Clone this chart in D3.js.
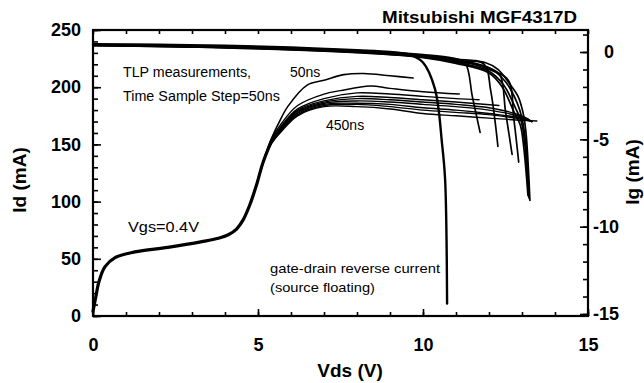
<!DOCTYPE html>
<html><head><meta charset="utf-8">
<script src="https://cdn.jsdelivr.net/npm/d3@7"></script>
<style>
body{margin:0;background:#fff;}
text{font-family:"Liberation Sans",Arial,Helvetica,sans-serif;fill:#000;}
</style></head>
<body><svg id="c" width="644" height="383"></svg>
<script>
// ---------- data ----------
const xTicksMajor = [0, 5, 10, 15];
const idTicksMajor = [0, 50, 100, 150, 200, 250];
const igTicksMajor = [0, -5, -10, -15];

// common Id rise (Vgs = 0.4 V), [Vds, Id]
const idCommon = [[0,4],[0.08,16],[0.18,30],[0.36,43],[0.67,51],[1.27,56],[2.27,60],[3.3,65],[3.8,68],[4.1,71],[4.35,76],[4.55,84],[4.75,97],[4.95,114],[5.15,134],[5.42,154]];
// Id per time sample after the rise
const id50ns  = [[4.95,114],[5.15,134],[5.42,156],[5.65,170],[5.9,183],[6.5,202],[7.0,206],[7.6,211],[8.2,212],[9.0,210],[9.7,208]];
const id100ns = [[4.95,114],[5.15,134],[5.42,155],[5.7,168],[6.2,184],[7.0,194],[7.5,197],[8.4,201],[9.0,199],[10.0,196],[11.1,194]];
const id150ns = [[4.95,114],[5.15,134],[5.42,154],[5.7,166],[6.2,181],[7.0,190],[8.0,195],[9.0,194],[10.0,192],[11.0,190],[11.7,189]];
const id200ns = [[4.95,114],[5.15,134],[5.42,154],[5.7,165],[6.2,180],[7.0,188],[8.0,192],[9.0,191],[10.0,189],[11.0,187],[12.3,184]];
const id250ns = [[4.95,114],[5.15,134],[5.42,153],[5.7,164],[6.2,179],[7.0,187],[8.0,190],[9.0,189],[10.0,187],[11.0,185],[12.0,182],[13.0,175],[13.3,170]];
const id300ns = [[4.95,114],[5.15,134],[5.42,153],[5.7,163],[6.2,178],[7.0,186],[8.0,188],[9.0,187],[10.0,185],[11.0,183],[12.0,180],[13.0,174],[13.3,170]];
const id350ns = [[4.95,114],[5.15,134],[5.42,152],[5.7,162],[6.2,177],[7.0,185],[8.0,186],[9.0,185],[10.0,182],[11.0,180],[12.0,177],[13.0,173],[13.3,170]];
const id400ns = [[4.95,114],[5.15,134],[5.42,152],[5.7,162],[6.2,176],[7.0,184],[8.0,185],[9.0,183],[10.0,180],[11.0,178],[12.0,176],[13.0,172],[13.3,170]];
const id450ns = [[4.95,114],[5.15,134],[5.42,151],[5.7,161],[6.2,175],[7.0,183],[8.0,183],[9.0,181],[10.0,177],[11.0,175],[12.0,173],[13.0,171],[13.45,170.5]];
const idSeries = [id50ns,id100ns,id150ns,id200ns,id250ns,id300ns,id350ns,id400ns,id450ns];

// gate current, [Vds, Ig]
const igGateDrain = [[0,0.45],[2,0.42],[4,0.36],[6,0.26],[8,0.1],[9,0.0],[9.6,-0.15],[10.0,-0.6],[10.36,-2.1],[10.58,-5.3],[10.67,-7.3],[10.73,-14.4]];
const ig100ns = [[0,0.42],[4,0.32],[8,0.08],[10,-0.15],[10.9,-0.35],[11.27,-0.6],[11.5,-2.6],[11.73,-4.6]];
const ig150ns = [[0,0.42],[4,0.3],[8,0.05],[10,-0.2],[11,-0.4],[11.85,-0.7],[12.05,-2.2],[12.27,-5.4]];
const ig200ns = [[0,0.4],[4,0.3],[8,0.05],[10,-0.2],[11,-0.42],[12,-0.9],[12.33,-1.3],[12.5,-3.4],[12.7,-5.86]];
const ig250ns = [[0,0.4],[4,0.28],[8,0.03],[10,-0.22],[11,-0.45],[12,-1.0],[12.58,-1.6],[12.75,-3.8],[12.9,-6.3]];
const ig300ns = [[0,0.4],[4,0.28],[8,0.03],[10,-0.25],[11,-0.5],[11.88,-0.6],[12.27,-1.0],[12.64,-1.86],[12.88,-2.54],[13.03,-3.46],[13.12,-4.6],[13.24,-8.5]];
const ig350ns = [[0,0.38],[4,0.26],[8,0.0],[10,-0.28],[11,-0.55],[12,-0.9],[12.5,-1.7],[12.85,-2.9],[13.0,-3.8],[13.1,-5.0],[13.22,-8.4]];
const ig400ns = [[0,0.38],[4,0.25],[8,-0.02],[10,-0.3],[11,-0.6],[12,-1.1],[12.45,-1.9],[12.8,-3.2],[12.98,-4.0],[13.08,-5.2],[13.2,-8.3]];
const ig450ns = [[0,0.36],[4,0.24],[8,-0.04],[10,-0.32],[11,-0.65],[12,-1.2],[12.4,-2.0],[12.75,-3.4],[12.95,-4.2],[13.05,-5.4],[13.18,-8.2]];
const igSeries = [ig100ns,ig150ns,ig200ns,ig250ns,ig300ns,ig350ns,ig400ns,ig450ns];

// ---------- chart ----------
const svg = d3.select("#c");
const x = d3.scaleLinear([0, 15], [93, 588]);
const yId = d3.scaleLinear([0, 250], [316, 30]);
const yIg = d3.scaleLinear([-15, 0], [314, 52]);

const lineId = d3.line().x(d => x(d[0])).y(d => yId(d[1])).curve(d3.curveCatmullRom.alpha(0.5));
const lineIg = d3.line().x(d => x(d[0])).y(d => yIg(d[1])).curve(d3.curveCatmullRom.alpha(0.5));

// axes (ticks inward)
function styleAxis(g){ g.select(".domain").remove(); g.selectAll("line").attr("stroke","#000").attr("stroke-width",1.6); }
svg.append("g").attr("transform","translate(0,316)")
  .call(d3.axisBottom(x).tickValues(d3.range(0,16,1)).tickSize(-4).tickFormat(""))
  .call(styleAxis);
svg.append("g").attr("transform","translate(0,316)")
  .call(d3.axisBottom(x).tickValues(xTicksMajor).tickSize(-7).tickPadding(22).tickFormat(d3.format("d")))
  .call(styleAxis)
  .selectAll("text").attr("font-size",18).attr("font-weight","bold");
svg.append("g").attr("transform","translate(0,30)")
  .call(d3.axisTop(x).tickValues(d3.range(0,16,1)).tickSize(-4).tickFormat(""))
  .call(styleAxis);
svg.append("g").attr("transform","translate(93,0)")
  .call(d3.axisLeft(yId).tickValues(d3.range(0,251,10)).tickSize(-5).tickFormat(""))
  .call(styleAxis);
svg.append("g").attr("transform","translate(93,0)")
  .call(d3.axisLeft(yId).tickValues(idTicksMajor).tickSize(-8).tickPadding(12).tickFormat(d3.format("d")))
  .call(styleAxis)
  .selectAll("text").attr("font-size",18).attr("font-weight","bold");
svg.append("g").attr("transform","translate(588,0)")
  .call(d3.axisRight(yIg).tickValues(d3.range(-15,2,1)).tickSize(-5).tickFormat(""))
  .call(styleAxis);
const rAx = svg.append("g").attr("transform","translate(588,0)")
  .call(d3.axisRight(yIg).tickValues(igTicksMajor).tickSize(-8).tickPadding(6).tickFormat(d => d === 0 ? "0" : "-" + Math.abs(d)))
  .call(styleAxis);
rAx.selectAll("text").attr("font-size",18).attr("font-weight","bold")
  .attr("x", d => d === 0 ? 16 : 5);

// frame
svg.append("rect").attr("x",93).attr("y",30).attr("width",495).attr("height",286)
  .attr("fill","none").attr("stroke","#000").attr("stroke-width",2.2);

// curves
const curves = svg.append("g").attr("fill","none").attr("stroke","#000").attr("stroke-linejoin","round").attr("stroke-linecap","round");
curves.append("path").attr("d", lineId(idCommon)).attr("stroke-width",3.2);
idSeries.forEach((s,i) => curves.append("path").attr("d", lineId(s)).attr("stroke-width", i===0 ? 1.6 : 1.4));
curves.append("path").attr("d", lineIg(igGateDrain)).attr("stroke-width",2.4);
igSeries.forEach(s => curves.append("path").attr("d", lineIg(s)).attr("stroke-width",1.7));

// labels
svg.append("text").attr("x",577).attr("y",23).attr("text-anchor","end")
  .attr("font-size",16).attr("font-weight","bold").attr("textLength",195).attr("lengthAdjust","spacingAndGlyphs")
  .text("Mitsubishi MGF4317D");
svg.append("text").attr("x",123).attr("y",77).attr("font-size",14).attr("textLength",128).attr("lengthAdjust","spacingAndGlyphs").text("TLP measurements,");
svg.append("text").attr("x",123).attr("y",101).attr("font-size",14).attr("textLength",157).attr("lengthAdjust","spacingAndGlyphs").text("Time Sample Step=50ns");
svg.append("text").attr("x",290).attr("y",77).attr("font-size",14).text("50ns");
svg.append("text").attr("x",326).attr("y",130).attr("font-size",14).text("450ns");
svg.append("text").attr("x",128).attr("y",232).attr("font-size",15).attr("textLength",71).attr("lengthAdjust","spacingAndGlyphs").text("Vgs=0.4V");
svg.append("text").attr("x",270).attr("y",273).attr("font-size",13).attr("textLength",170).attr("lengthAdjust","spacingAndGlyphs").text("gate-drain reverse current");
svg.append("text").attr("x",270).attr("y",292).attr("font-size",13).attr("textLength",105).attr("lengthAdjust","spacingAndGlyphs").text("(source floating)");

svg.append("text").attr("x",350).attr("y",377).attr("text-anchor","middle")
  .attr("font-size",19).attr("font-weight","bold").text("Vds (V)");
svg.append("text").attr("transform","translate(26,180) rotate(-90)").attr("text-anchor","middle")
  .attr("font-size",19).attr("font-weight","bold").text("Id (mA)");
svg.append("text").attr("transform","translate(639,172) rotate(-90)").attr("text-anchor","middle")
  .attr("font-size",19).attr("font-weight","bold").text("Ig (mA)");
</script></body></html>
